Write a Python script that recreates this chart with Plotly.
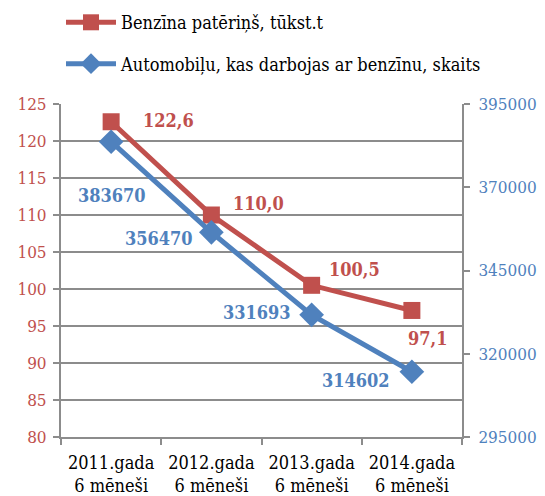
import plotly.graph_objects as go

categories = ["2011.gada<br>6 mēneši", "2012.gada<br>6 mēneši",
              "2013.gada<br>6 mēneši", "2014.gada<br>6 mēneši"]
benzins = [122.6, 110.0, 100.5, 97.1]
automobili = [383670, 356470, 331693, 314602]

RED = "#C0504D"
BLUE = "#4F81BD"
GRID = "#8C8C8C"
FONT = "DejaVu Serif Condensed, DejaVu Serif"

# label offsets in px (x, y) relative to markers
red_off = [(57, 1), (47, 12), (43, 16), (16, -28)]
blue_off = [(1, -54), (-52, -6), (-55, 2), (-56, -9)]

fig = go.Figure()

fig.add_trace(go.Scatter(
    x=categories, y=benzins, name="Benzīna patēriņš, tūkst.t",
    mode="lines+markers", line=dict(color=RED, width=5),
    marker=dict(symbol="square", size=17, color=RED),
    legendgroup="a", yaxis="y"))

fig.add_trace(go.Scatter(
    x=categories, y=automobili, name="Automobiļu, kas darbojas ar benzīnu, skaits",
    mode="lines+markers", line=dict(color=BLUE, width=5),
    marker=dict(symbol="diamond", size=19, color=BLUE),
    legendgroup="b", yaxis="y2"))

for c, v, (dx, dy) in zip(categories, benzins, red_off):
    fig.add_annotation(x=c, y=v, xref="x", yref="y", showarrow=False,
                       text="<b>%s</b>" % f"{v:.1f}".replace(".", ","),
                       font=dict(family=FONT, size=18, color=RED),
                       xshift=dx, yshift=dy)

for c, v, (dx, dy) in zip(categories, automobili, blue_off):
    fig.add_annotation(x=c, y=v, xref="x", yref="y2", showarrow=False,
                       text="<b>%d</b>" % v,
                       font=dict(family=FONT, size=18, color=BLUE),
                       xshift=dx, yshift=dy)

# the page body adds an 8px margin, so the figure is 8px smaller
fig.update_layout(
    width=537, height=488,
    margin=dict(l=53, r=83, t=96, b=59, autoexpand=False),
    paper_bgcolor="white", plot_bgcolor="white",
    font=dict(family=FONT, size=17, color="black"),
    showlegend=True,
    legend=dict(x=0.0, y=1.3, xanchor="left", yanchor="top",
                traceorder="grouped", tracegroupgap=15, itemwidth=50,
                font=dict(family=FONT, size=18, color="black"),
                bgcolor="rgba(0,0,0,0)"),
    xaxis=dict(type="category", range=[-0.5, 3.5], showline=True,
               linecolor=GRID, linewidth=2,
               ticks="outside", tickson="boundaries", ticklen=6,
               tickcolor=GRID, tickwidth=2, showgrid=False, automargin=False,
               tickangle=0, ticklabelstandoff=8,
               tickfont=dict(family=FONT, size=18, color="black")),
    yaxis=dict(range=[80, 125], dtick=5, showline=True, linecolor=GRID,
               linewidth=2, ticks="outside", ticklen=6, tickcolor=GRID,
               tickwidth=2, showgrid=True, gridcolor=GRID, gridwidth=1.5,
               zeroline=False, ticklabelstandoff=3, automargin=False,
               tickfont=dict(family=FONT, size=17, color=RED)),
    yaxis2=dict(range=[295000, 395000], tick0=295000, dtick=25000,
                overlaying="y", side="right", showline=True, linecolor=GRID,
                linewidth=2, ticks="outside", ticklen=6, tickcolor=GRID,
                tickwidth=2, showgrid=False, zeroline=False, tickformat="d",
                ticklabelstandoff=5, automargin=False,
                tickfont=dict(family=FONT, size=17, color=BLUE)),
)

fig.write_html("out.html")
